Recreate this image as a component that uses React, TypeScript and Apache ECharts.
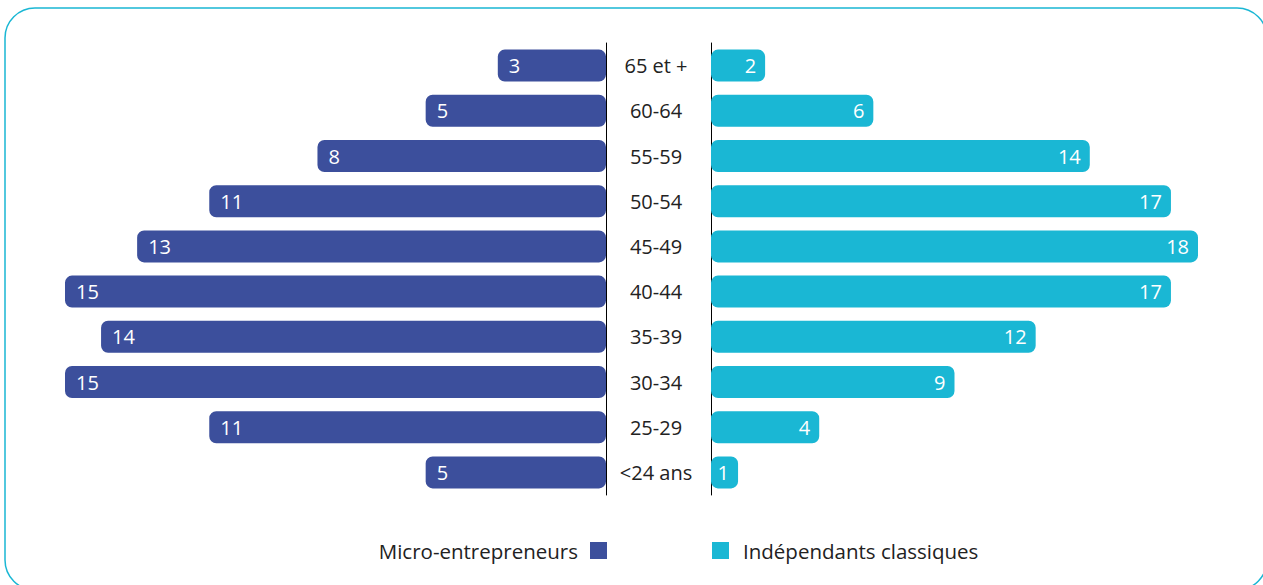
import React, { useEffect, useRef } from "react";
import * as echarts from "echarts";

const categories = ["65 et +", "60-64", "55-59", "50-54", "45-49", "40-44", "35-39", "30-34", "25-29", "<24 ans"];
const microValues = [3, 5, 8, 11, 13, 15, 14, 15, 11, 5];
const indepValues = [2, 6, 14, 17, 18, 17, 12, 9, 4, 1];
const seriesNames = ["Micro-entrepreneurs", "Indépendants classiques"];

const PURPLE = "#3c4f9c";
const CYAN = "#1ab7d4";
const FONT = "'Open Sans', Roboto, sans-serif";

export default function App() {
  const ref = useRef<HTMLDivElement>(null);
  useEffect(() => {
    document.body.style.margin = "0";
    if (!ref.current) return;
    const chart = echarts.init(ref.current, null, { renderer: "svg" });
    chart.setOption({
      animation: false,
      textStyle: { fontFamily: FONT },
      graphic: [
        {
          type: "rect",
          shape: { x: 5, y: 8, width: 1262, height: 582, r: 30 },
          style: { fill: "none", stroke: CYAN, lineWidth: 1.5 },
          silent: true,
        },
      ],
      grid: [
        { left: 65, width: 541, top: 43, height: 452 },
        { left: 711, width: 487, top: 43, height: 452 },
      ],
      xAxis: [
        { gridIndex: 0, type: "value", min: 0, max: 15, inverse: true, show: false },
        { gridIndex: 1, type: "value", min: 0, max: 18, show: false },
      ],
      yAxis: [
        {
          gridIndex: 0,
          type: "category",
          data: categories,
          inverse: true,
          position: "right",
          axisLine: { show: true, lineStyle: { color: "#000", width: 1 } },
          axisTick: { show: false },
          axisLabel: {
            margin: 50,
            align: "center",
            fontSize: 20,
            color: "#222",
            fontFamily: FONT,
            padding: [0, 0, 3, 0],
          },
        },
        {
          gridIndex: 1,
          type: "category",
          data: categories,
          inverse: true,
          position: "left",
          axisLine: { show: true, lineStyle: { color: "#000", width: 1 } },
          axisTick: { show: false },
          axisLabel: { show: false },
        },
      ],
      legend: [
        {
          data: [seriesNames[0]],
          right: 656,
          top: 540,
          align: "right",
          icon: "rect",
          itemWidth: 17,
          itemHeight: 17,
          padding: 0,
          textStyle: { fontSize: 20.5, color: "#222", fontFamily: FONT, padding: [0, 7, 0, 0] },
        },
        {
          data: [seriesNames[1]],
          left: 712,
          top: 540,
          align: "left",
          icon: "rect",
          itemWidth: 17,
          itemHeight: 17,
          padding: 0,
          textStyle: { fontSize: 20.5, color: "#222", fontFamily: FONT, padding: [0, 0, 0, 9] },
        },
      ],
      series: [
        {
          name: seriesNames[0],
          type: "bar",
          xAxisIndex: 0,
          yAxisIndex: 0,
          data: microValues,
          barWidth: 32,
          itemStyle: { color: PURPLE, borderRadius: 7 },
          label: {
            show: true,
            position: "insideLeft",
            distance: 11,
            color: "#fff",
            fontSize: 20,
            fontFamily: FONT,
          },
        },
        {
          name: seriesNames[1],
          type: "bar",
          xAxisIndex: 1,
          yAxisIndex: 1,
          data: indepValues,
          barWidth: 32,
          itemStyle: { color: CYAN, borderRadius: 7 },
          label: {
            show: true,
            position: "insideRight",
            distance: 9,
            color: "#fff",
            fontSize: 20,
            fontFamily: FONT,
          },
        },
      ],
    });
    return () => chart.dispose();
  }, []);
  return <div ref={ref} style={{ width: 1263, height: 585 }} />;
}
